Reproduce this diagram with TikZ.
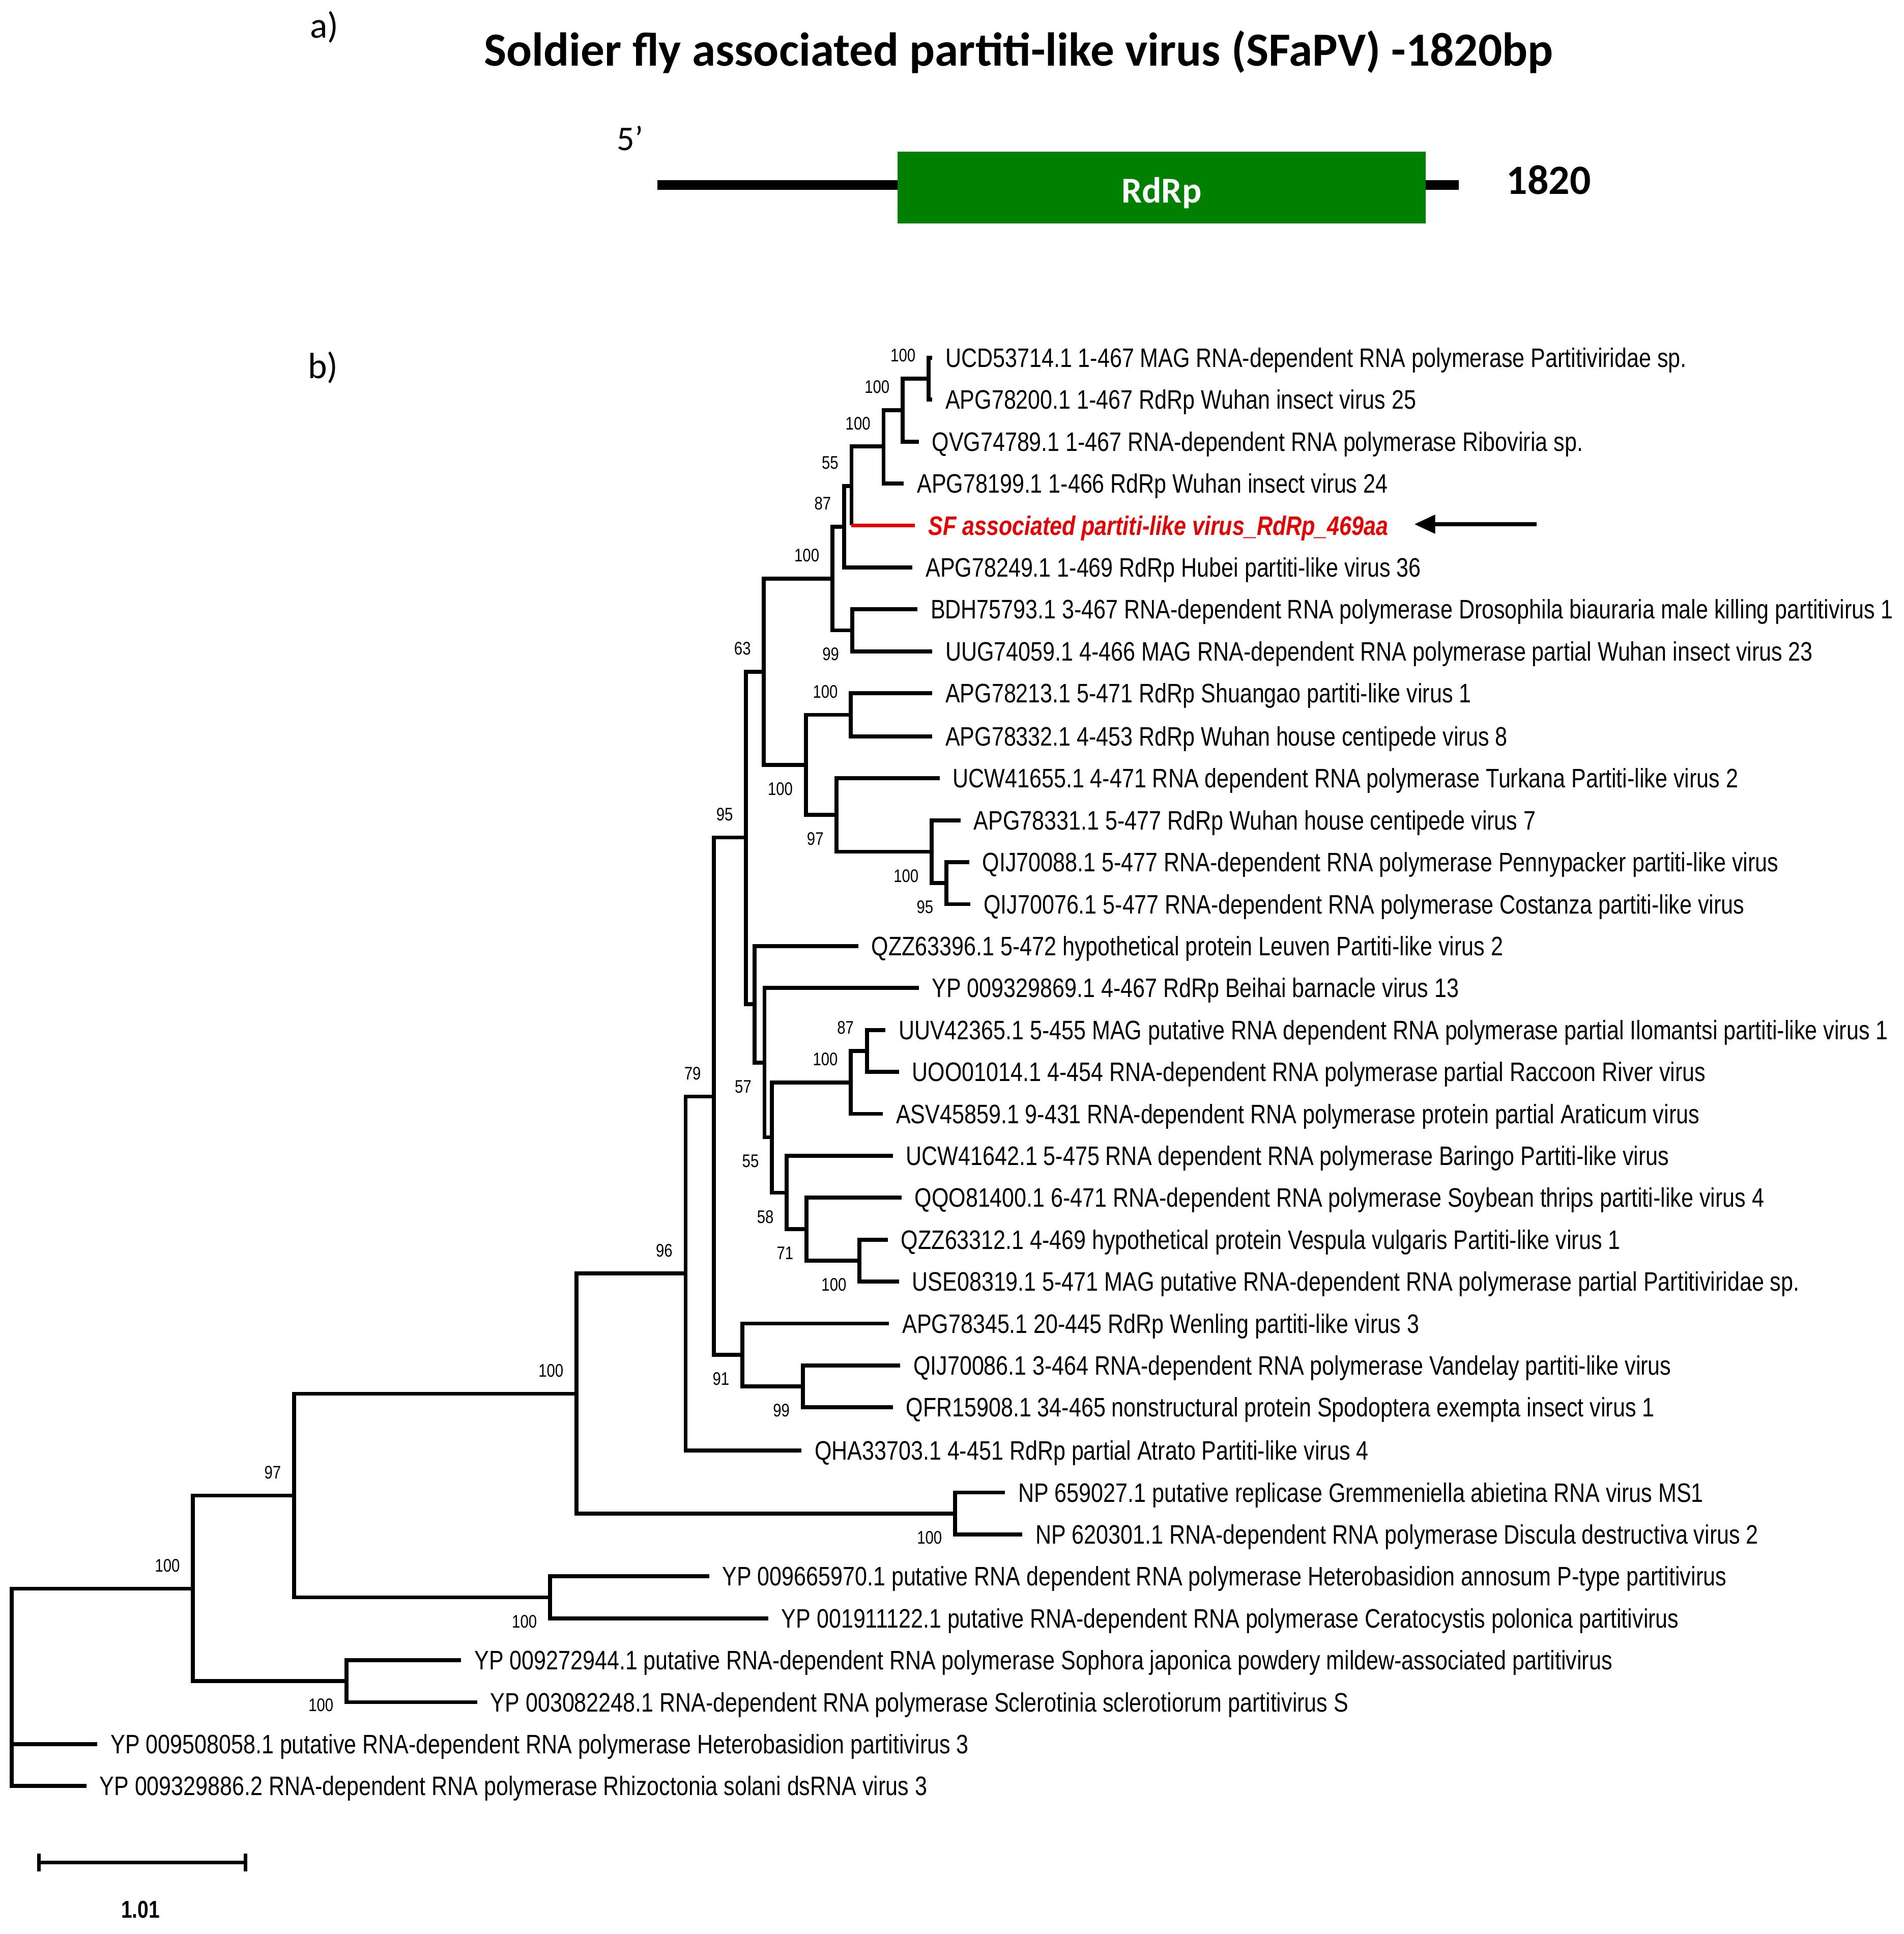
\documentclass[tikz,border=0pt]{standalone}
\usepackage{fontspec}
\setmainfont{Liberation Sans}[FakeStretch=0.82]
\newfontfamily\calibri{Carlito}
\usepackage{tikz}
\usetikzlibrary{arrows.meta,positioning}
\definecolor{genegreen}{RGB}{0,128,0}
\definecolor{sfred}{RGB}{230,0,0}
\newcommand{\leaffont}{\fontsize{15.4}{18}\selectfont}
\newcommand{\bootfont}{\fontsize{10.5}{12}\selectfont}

\tikzset{
  leaf/.style={anchor=west,inner xsep=6.5pt,inner ysep=0pt,text height=11pt,text depth=0pt,font=\leaffont},
  boot/.style={inner sep=0pt,font=\bootfont},
  bsa/.style={boot,above left=8.5pt and 6.4pt of #1},
  bsb/.style={boot,below left=9pt and 6.4pt of #1},
  elbow/.style={to path={|- (\tikztotarget)}}
}

\begin{document}
\begin{tikzpicture}[x=0.025cm,y=-0.025cm,line width=2.3pt]
  \useasboundingbox (0,0) rectangle (1544,1568);

  % a) genome
  \node[font=\calibri\fontsize{21}{24}\selectfont] (pa) at (263,22) {a)};
  \node[font=\calibri\bfseries\fontsize{27.4}{32}\selectfont] (title) at (826,42) {Soldier fly associated partiti-like virus (SFaPV) -1820bp};
  \coordinate (g5) at (533,150);
  \coordinate (g3) at (1183,150);
  \draw[line width=5.5pt] (g5) -- (g3);
  \node[fill=genegreen,minimum width=10.7cm,minimum height=1.45cm,text height=17.5pt,text depth=0pt,text=white,font=\calibri\bfseries\fontsize{21}{24}\selectfont] (rdrp) at (942,152) {RdRp};
  \node[font=\calibri\fontsize{20}{24}\selectfont] (five) at (511,112) {5’};
  \node[font=\calibri\bfseries\fontsize{24}{28}\selectfont] (len) at (1256,146) {1820};

  % b) tree
  \node[font=\calibri\fontsize{21}{24}\selectfont] (pb) at (262,298) {b)};

  \node[leaf] (l1) at (756,290) {UCD53714.1 1-467 MAG RNA-dependent RNA polymerase Partitiviridae sp.};
  \node[leaf] (l2) at (756,324) {APG78200.1 1-467 RdRp Wuhan insect virus 25};
  \node[leaf] (l3) at (745,358) {QVG74789.1 1-467 RNA-dependent RNA polymerase Riboviria sp.};
  \node[leaf] (l4) at (733,392) {APG78199.1 1-466 RdRp Wuhan insect virus 24};
  \node[leaf,text=sfred,font=\leaffont\bfseries\itshape] (l5) at (742,426) {SF associated partiti-like virus\_RdRp\_469aa};
  \node[leaf] (l6) at (740,460) {APG78249.1 1-469 RdRp Hubei partiti-like virus 36};
  \node[leaf] (l7) at (744,494) {BDH75793.1 3-467 RNA-dependent RNA polymerase Drosophila biauraria male killing partitivirus 1};
  \node[leaf] (l8) at (756,528) {UUG74059.1 4-466 MAG RNA-dependent RNA polymerase partial Wuhan insect virus 23};
  \node[leaf] (l9) at (756,562) {APG78213.1 5-471 RdRp Shuangao partiti-like virus 1};
  \node[leaf] (l10) at (756,597) {APG78332.1 4-453 RdRp Wuhan house centipede virus 8};
  \node[leaf] (l11) at (762,631) {UCW41655.1 4-471 RNA dependent RNA polymerase Turkana Partiti-like virus 2};
  \node[leaf] (l12) at (779,665) {APG78331.1 5-477 RdRp Wuhan house centipede virus 7};
  \node[leaf] (l13) at (786,699) {QIJ70088.1 5-477 RNA-dependent RNA polymerase Pennypacker partiti-like virus};
  \node[leaf] (l14) at (787,733) {QIJ70076.1 5-477 RNA-dependent RNA polymerase Costanza partiti-like virus};
  \node[leaf] (l15) at (696,767) {QZZ63396.1 5-472 hypothetical protein Leuven Partiti-like virus 2};
  \node[leaf] (l16) at (745,801) {YP 009329869.1 4-467 RdRp Beihai barnacle virus 13};
  \node[leaf] (l17) at (718,835) {UUV42365.1 5-455 MAG putative RNA dependent RNA polymerase partial Ilomantsi partiti-like virus 1};
  \node[leaf] (l18) at (729,869) {UOO01014.1 4-454 RNA-dependent RNA polymerase partial Raccoon River virus};
  \node[leaf] (l19) at (716,903) {ASV45859.1 9-431 RNA-dependent RNA polymerase protein partial Araticum virus};
  \node[leaf] (l20) at (724,937) {UCW41642.1 5-475 RNA dependent RNA polymerase Baringo Partiti-like virus};
  \node[leaf] (l21) at (731,971) {QQO81400.1 6-471 RNA-dependent RNA polymerase Soybean thrips partiti-like virus 4};
  \node[leaf] (l22) at (720,1005) {QZZ63312.1 4-469 hypothetical protein Vespula vulgaris Partiti-like virus 1};
  \node[leaf] (l23) at (729,1039) {USE08319.1 5-471 MAG putative RNA-dependent RNA polymerase partial Partitiviridae sp.};
  \node[leaf] (l24) at (721,1073) {APG78345.1 20-445 RdRp Wenling partiti-like virus 3};
  \node[leaf] (l25) at (730,1107) {QIJ70086.1 3-464 RNA-dependent RNA polymerase Vandelay partiti-like virus};
  \node[leaf] (l26) at (724,1141) {QFR15908.1 34-465 nonstructural protein Spodoptera exempta insect virus 1};
  \node[leaf] (l27) at (650,1176) {QHA33703.1 4-451 RdRp partial Atrato Partiti-like virus 4};
  \node[leaf] (l28) at (815,1210) {NP 659027.1 putative replicase Gremmeniella abietina RNA virus MS1};
  \node[leaf] (l29) at (829,1244) {NP 620301.1 RNA-dependent RNA polymerase Discula destructiva virus 2};
  \node[leaf] (l30) at (575,1278) {YP 009665970.1 putative RNA dependent RNA polymerase Heterobasidion annosum P-type partitivirus};
  \node[leaf] (l31) at (623,1312) {YP 001911122.1 putative RNA-dependent RNA polymerase Ceratocystis polonica partitivirus};
  \node[leaf] (l32) at (374,1346) {YP 009272944.1 putative RNA-dependent RNA polymerase Sophora japonica powdery mildew-associated partitivirus};
  \node[leaf] (l33) at (387,1380) {YP 003082248.1 RNA-dependent RNA polymerase Sclerotinia sclerotiorum partitivirus S};
  \node[leaf] (l34) at (79,1414) {YP 009508058.1 putative RNA-dependent RNA polymerase Heterobasidion partitivirus 3};
  \node[leaf] (l35) at (70,1448) {YP 009329886.2 RNA-dependent RNA polymerase Rhizoctonia solani dsRNA virus 3};

  % inner nodes
  \coordinate (n1) at (753,307);
  \coordinate (n2) at (732,332.5);
  \coordinate (n3) at (716.5,362);
  \coordinate (n4) at (690.5,394);
  \coordinate (n5) at (684.5,427);
  \coordinate (n6) at (691,511);
  \coordinate (n7) at (675,469);
  \coordinate (n8) at (690,579.5);
  \coordinate (n9) at (767.5,716);
  \coordinate (n10) at (755.5,690.5);
  \coordinate (n11) at (678.5,660.5);
  \coordinate (n12) at (653.5,620);
  \coordinate (n13) at (619.5,544.5);
  \coordinate (n14) at (703,852);
  \coordinate (n15) at (690,877.5);
  \coordinate (n16) at (697,1022);
  \coordinate (n17) at (654,996.5);
  \coordinate (n18) at (638,967);
  \coordinate (n19) at (626,922);
  \coordinate (n20) at (620,861.5);
  \coordinate (n21) at (612,814);
  \coordinate (n22) at (605,679);
  \coordinate (n23) at (651,1124);
  \coordinate (n24) at (602,1098.5);
  \coordinate (n25) at (579,889);
  \coordinate (n26) at (556,1032.5);
  \coordinate (n27) at (774.5,1227);
  \coordinate (n28) at (467.5,1130);
  \coordinate (n29) at (446,1295);
  \coordinate (n30) at (238.5,1212.5);
  \coordinate (n31) at (281,1363);
  \coordinate (n32) at (156.5,1288);
  \coordinate (root) at (9.5,1368);
  \coordinate (sfjoin) at (n4 |- l5.west);

  \path (n1) edge[elbow] (l1.west) edge[elbow] (l2.west)
        (n2) edge[elbow] (n1) edge[elbow] (l3.west)
        (n3) edge[elbow] (n2) edge[elbow] (l4.west)
        (n4) edge[elbow] (n3) edge (sfjoin)
        (n5) edge[elbow] (n4) edge[elbow] (l6.west)
        (n6) edge[elbow] (l7.west) edge[elbow] (l8.west)
        (n7) edge[elbow] (n5) edge[elbow] (n6)
        (n8) edge[elbow] (l9.west) edge[elbow] (l10.west)
        (n9) edge[elbow] (l13.west) edge[elbow] (l14.west)
        (n10) edge[elbow] (l12.west) edge[elbow] (n9)
        (n11) edge[elbow] (l11.west) edge[elbow] (n10)
        (n12) edge[elbow] (n8) edge[elbow] (n11)
        (n13) edge[elbow] (n7) edge[elbow] (n12)
        (n14) edge[elbow] (l17.west) edge[elbow] (l18.west)
        (n15) edge[elbow] (n14) edge[elbow] (l19.west)
        (n16) edge[elbow] (l22.west) edge[elbow] (l23.west)
        (n17) edge[elbow] (l21.west) edge[elbow] (n16)
        (n18) edge[elbow] (l20.west) edge[elbow] (n17)
        (n19) edge[elbow] (n15) edge[elbow] (n18)
        (n20) edge[elbow] (l16.west) edge[elbow] (n19)
        (n21) edge[elbow] (l15.west) edge[elbow] (n20)
        (n22) edge[elbow] (n13) edge[elbow] (n21)
        (n23) edge[elbow] (l25.west) edge[elbow] (l26.west)
        (n24) edge[elbow] (l24.west) edge[elbow] (n23)
        (n25) edge[elbow] (n22) edge[elbow] (n24)
        (n26) edge[elbow] (n25) edge[elbow] (l27.west)
        (n27) edge[elbow] (l28.west) edge[elbow] (l29.west)
        (n28) edge[elbow] (n26) edge[elbow] (n27)
        (n29) edge[elbow] (l30.west) edge[elbow] (l31.west)
        (n30) edge[elbow] (n28) edge[elbow] (n29)
        (n31) edge[elbow] (l32.west) edge[elbow] (l33.west)
        (n32) edge[elbow] (n30) edge[elbow] (n31)
        (root) edge[elbow] (n32) edge[elbow] (l34.west) edge[elbow] (l35.west);
  \draw[sfred] (sfjoin) -- (l5.west);

  % bootstrap values
  \node[bsa=n1] (bs1) {100};
  \node[bsa=n2] (bs2) {100};
  \node[bsa=n3] (bs3) {100};
  \node[bsa=n4] (bs4) {55};
  \node[bsa=n5] (bs5) {87};
  \node[bsa=n7] (bs6) {100};
  \node[bsb=n6] (bs7) {99};
  \node[bsa=n13] (bs8) {63};
  \node[bsa=n8] (bs9) {100};
  \node[bsb=n12] (bs10) {100};
  \node[bsb=n11] (bs11) {97};
  \node[bsb=n10] (bs12) {100};
  \node[bsb=n9] (bs13) {95};
  \node[bsa=n22] (bs14) {95};
  \node[bsb=n20] (bs15) {57};
  \node[bsa=n14] (bs16) {87};
  \node[bsa=n15] (bs17) {100};
  \node[bsb=n19] (bs18) {55};
  \node[bsb=n18] (bs19) {58};
  \node[bsb=n17] (bs20) {71};
  \node[bsb=n16] (bs21) {100};
  \node[bsa=n25] (bs22) {79};
  \node[bsa=n26] (bs23) {96};
  \node[bsb=n24] (bs24) {91};
  \node[bsb=n23] (bs25) {99};
  \node[bsa=n28] (bs26) {100};
  \node[bsb=n27] (bs27) {100};
  \node[bsa=n30] (bs28) {97};
  \node[bsb=n29] (bs29) {100};
  \node[bsa=n32] (bs30) {100};
  \node[bsb=n31] (bs31) {100};

  % arrow to the new virus
  \coordinate (arrtail) at (1246,425);
  \coordinate (arrhead) at (1147,425);
  \draw[-{Triangle[length=12pt,width=10.5pt]},line width=2.1pt] (arrtail) -- (arrhead);

  % scale bar
  \coordinate (sb0) at (31.5,1510);
  \coordinate (sb1) at (199,1510);
  \draw[line width=2.1pt] (sb0) -- (sb1);
  \draw[line width=2.1pt] ([yshift=5pt]sb0) -- ([yshift=-5pt]sb0);
  \draw[line width=2.1pt] ([yshift=5pt]sb1) -- ([yshift=-5pt]sb1);
  \node[font=\bfseries\fontsize{14}{16}\selectfont] (sblab) at (114,1548) {1.01};
\end{tikzpicture}
\end{document}
